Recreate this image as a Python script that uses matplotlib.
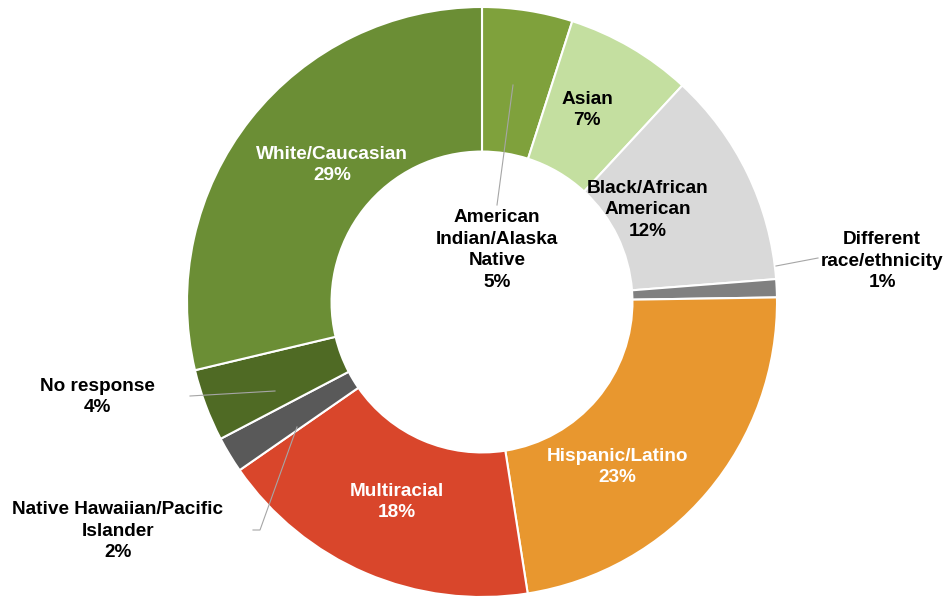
import matplotlib
matplotlib.use("Agg")
import matplotlib.pyplot as plt

plt.rcParams['font.family'] = ['Liberation Sans', 'DejaVu Sans']

# race/ethnicity breakdown, percent
groups = ["American\nIndian/Alaska\nNative", "Asian", "Black/African\nAmerican",
          "Different\nrace/ethnicity", "Hispanic/Latino", "Multiracial",
          "Native Hawaiian/Pacific\nIslander", "No response", "White/Caucasian"]
pct = [5, 7, 12, 1, 23, 18, 2, 4, 29]
colors = ["#7fa13c", "#c4dfa0", "#d9d9d9", "#808080", "#e8972f",
          "#d9462b", "#595959", "#4f6a24", "#6b8e35"]
text_colors = ["black", "black", "black", "black", "white",
               "white", "black", "black", "white"]

# label anchor (pixel-ish units, center of donut at 482,302, radius 295)
R = 295.0
cx, cy = 482, 302
label_px = [(497, 250), (587, 110), (648, 210), (882, 261), (617, 467),
            (397, 502), (118, 531), (97, 397), (332, 165)]
# leader lines: (start, end) points, None where label sits on the slice
leaders = [[(513, 85), (497, 205)], None, None,
           [(776, 266), (818, 258)], None, None,
           [(297, 427), (260, 530), (253, 530)],
           [(275, 391), (190, 396)], None]


def to_data(p):
    return ((p[0] - cx) / R, (cy - p[1]) / R)


fig = plt.figure(figsize=(9.49, 5.99), dpi=100)
ax = fig.add_axes([0, 0, 1, 1])

ax.pie(pct, colors=colors, startangle=90, counterclock=False, radius=1.0,
       wedgeprops=dict(width=0.49, edgecolor="white", linewidth=1.5))

for name, v, tc, p, ld in zip(groups, pct, text_colors, label_px, leaders):
    if ld is not None:
        pts = [to_data(q) for q in ld]
        ax.plot([q[0] for q in pts], [q[1] for q in pts], color="#a6a6a6", lw=0.8)
    x, y = to_data(p)
    ax.text(x, y, f"{name}\n{v}%", ha="center", va="center", color=tc,
            fontsize=13.7, fontweight="bold", linespacing=1.38)

ax.set_xlim(-cx / R, (949 - cx) / R)
ax.set_ylim(-(599 - cy) / R, cy / R)
ax.set_aspect("auto")
ax.axis("off")

fig.savefig("out.png", dpi=100, facecolor="white")
